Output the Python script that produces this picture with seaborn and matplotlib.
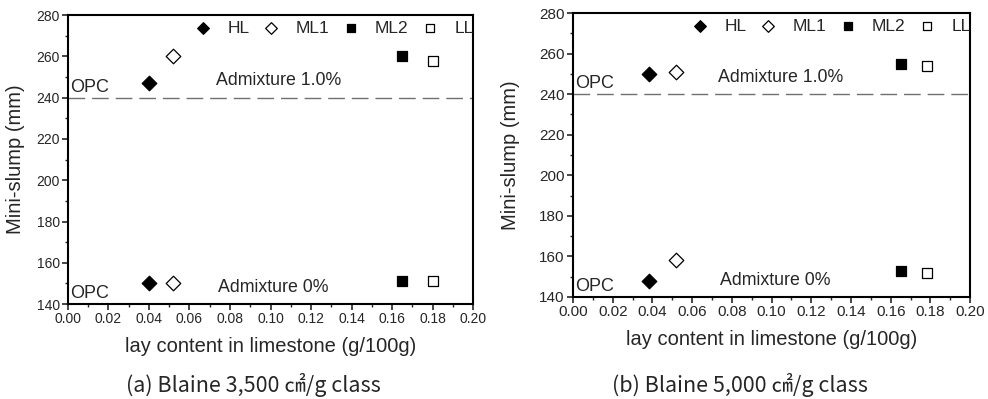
import matplotlib
matplotlib.use("Agg")
import matplotlib.pyplot as plt
import seaborn as sns
import pandas as pd
from matplotlib.ticker import MultipleLocator

sns.set_theme(style="ticks")
plt.rcParams['font.family'] = ['Liberation Sans', 'DejaVu Sans']

series = ["HL", "ML1", "ML2", "LL"]
# panel (a) Blaine 3,500
x_a = [0.040, 0.052, 0.165, 0.180]
y_a_adm1 = [247, 260, 260, 258]
y_a_adm0 = [150, 150, 151, 151]
# panel (b) Blaine 5,000
x_b = [0.038, 0.052, 0.165, 0.178]
y_b_adm1 = [250, 251, 255, 254]
y_b_adm0 = [148, 158, 153, 152]
opc_line = 240

captions = ["(a) Blaine 3,500 \u33a0/g class", "(b) Blaine 5,000 \u33a0/g class"]
xlabel = "lay content in limestone (g/100g)"
ylabel = "Mini-slump (mm)"

markers = {"HL": "D", "ML1": "D", "ML2": "s", "LL": "s"}
fills = {"HL": "black", "ML1": "white", "ML2": "black", "LL": "white"}
sizes = {"HL": 55, "ML1": 55, "ML2": 45, "LL": 45}

fig = plt.figure(figsize=(9.88, 3.99), dpi=100)
ax_a = fig.add_axes([0.0688, 0.238, 0.41, 0.724])
ax_b = fig.add_axes([0.580, 0.256, 0.402, 0.711])

panels = [(ax_a, x_a, y_a_adm1, y_a_adm0, 10, 10, 8),
          (ax_b, x_b, y_b_adm1, y_b_adm0, 11, 11, 14)]
for i, (ax, xs, y1, y0, tfs, xtfs, ylp) in enumerate(panels):
    df = pd.DataFrame({"x": xs + xs, "y": y1 + y0, "series": series + series})
    for s in series:
        d = df[df.series == s]
        sns.scatterplot(data=d, x="x", y="y", ax=ax, marker=markers[s], s=sizes[s],
                        color=fills[s], edgecolor="black", linewidth=0.9, label=s,
                        zorder=3)
    ax.axhline(opc_line, color="#707070", lw=1.0, ls=(0, (12, 5)), zorder=1)
    ax.set_xlim(0, 0.20)
    ax.set_ylim(140, 280)
    ax.xaxis.set_major_locator(MultipleLocator(0.02))
    ax.xaxis.set_minor_locator(MultipleLocator(0.01))
    ax.yaxis.set_major_locator(MultipleLocator(20))
    ax.yaxis.set_minor_locator(MultipleLocator(10))
    ax.xaxis.set_major_formatter(matplotlib.ticker.FormatStrFormatter("%.2f"))
    ax.tick_params(which="major", direction="out", length=4, width=1.2, pad=2)
    ax.tick_params(axis="y", labelsize=tfs)
    ax.tick_params(axis="x", labelsize=xtfs)
    ax.tick_params(which="minor", direction="out", length=2.5, width=1)
    for sp in ax.spines.values():
        sp.set_linewidth(1.5)
        sp.set_color("black")
    ax.set_xlabel(xlabel, fontsize=14.5, labelpad=8)
    ax.set_ylabel(ylabel, fontsize=14.5, labelpad=ylp)
    ax.text(0.001, 241, "OPC", fontsize=13, ha="left", va="bottom")
    ax.text(0.001, 141, "OPC", fontsize=13, ha="left", va="bottom")
    ax.text(0.073, 244, "Admixture 1.0%", fontsize=12.8, ha="left", va="bottom")
    ax.text(0.074, 144, "Admixture 0%", fontsize=12.8, ha="left", va="bottom")
    leg = ax.legend(loc="upper right", bbox_to_anchor=(1.015, 1.0), ncol=4,
                    frameon=False, fontsize=12.5, handlelength=1.0,
                    handletextpad=0.9, columnspacing=0.75, borderaxespad=0.1,
                    markerscale=0.8, borderpad=0.2)

fig.text(0.256, 0.035, captions[0], ha="center", va="center", fontsize=15.5,
         family=["Noto Sans CJK KR", "DejaVu Sans"])
fig.text(0.749, 0.035, captions[1], ha="center", va="center", fontsize=15.5,
         family=["Noto Sans CJK KR", "DejaVu Sans"])

fig.savefig("out.png", dpi=100)
